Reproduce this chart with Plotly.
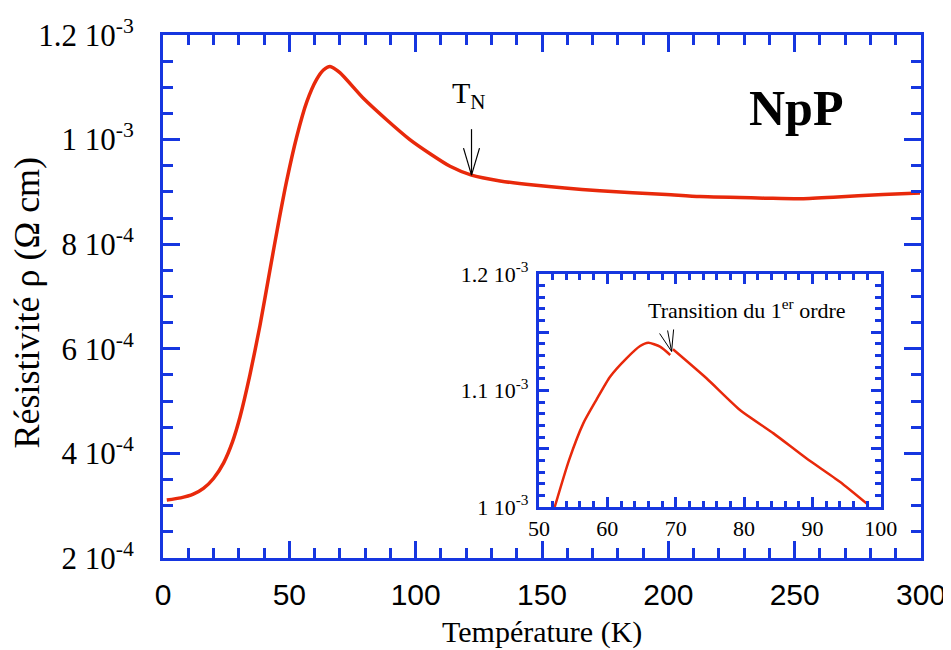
import plotly.graph_objects as go

# ---- data ----
T_main = [1.5, 7.0, 12.0, 16.0, 20.0, 24.0, 27.5, 30.5, 34.4, 38.4, 42.3, 45.6, 48.9, 52.9,
          56.9, 60.8, 63.5, 66.1, 70.0, 79.3, 88.5, 97.7, 105.7, 113.6, 122.1, 133.4, 146.6,
          172.9, 199.3, 212.5, 238.9, 252.0, 265.3, 285.0, 299.6]
rho_main = [3.11e-4, 3.15e-4, 3.22e-4, 3.33e-4, 3.52e-4, 3.82e-4, 4.22e-4, 4.70e-4, 5.50e-4,
            6.45e-4, 7.50e-4, 8.38e-4, 9.20e-4, 10.05e-4, 10.72e-4, 11.15e-4, 11.33e-4,
            11.40e-4, 11.28e-4, 10.79e-4, 10.38e-4, 10.00e-4, 9.73e-4, 9.49e-4, 9.32e-4,
            9.21e-4, 9.13e-4, 9.02e-4, 8.95e-4, 8.91e-4, 8.88e-4, 8.87e-4, 8.90e-4, 8.95e-4,
            8.98e-4]

T_inset_1 = [52.3, 54.4, 56.5, 58.4, 60.4, 62.8, 64.8, 66.0, 67.7, 69.2]
rho_inset_1 = [1.000e-3, 1.0403e-3, 1.072e-3, 1.092e-3, 1.1118e-3, 1.1276e-3, 1.1382e-3,
               1.141e-3, 1.1376e-3, 1.1305e-3]
T_inset_2 = [69.6, 74.5, 79.4, 84.3, 89.1, 94.0, 98.2]
rho_inset_2 = [1.1354e-3, 1.1105e-3, 1.0833e-3, 1.0632e-3, 1.0418e-3, 1.0217e-3, 1.0017e-3]

T_N = 122.1
rho_TN = 9.32e-4
T_trans = 69.4
rho_trans = 1.1335e-3

y_main_vals = [2e-4, 4e-4, 6e-4, 8e-4, 1e-3, 1.2e-3]
y_main_text = ["2 10<sup>-4</sup>", "4 10<sup>-4</sup>", "6 10<sup>-4</sup>",
               "8 10<sup>-4</sup>", "1 10<sup>-3</sup>", "1.2 10<sup>-3</sup>"]
y_inset_vals = [1.0e-3, 1.05e-3, 1.1e-3, 1.15e-3, 1.2e-3]
y_inset_text = ["1 10<sup>-3</sup>", "", "1.1 10<sup>-3</sup>", "", "1.2 10<sup>-3</sup>"]

BLUE = "#1636e0"
RED = "#e8290b"
SERIF = "Liberation Serif, Times New Roman, serif"
SANS = "Liberation Sans, Arial, sans-serif"

fig = go.Figure()
fig.add_trace(go.Scatter(x=T_main, y=rho_main, mode="lines",
                         line=dict(color=RED, width=3.5, shape="spline", smoothing=0.6),
                         xaxis="x", yaxis="y", showlegend=False))
fig.add_trace(go.Scatter(x=T_inset_1, y=rho_inset_1, mode="lines",
                         line=dict(color=RED, width=2.5, shape="spline", smoothing=0.6),
                         xaxis="x2", yaxis="y2", showlegend=False))
fig.add_trace(go.Scatter(x=T_inset_2, y=rho_inset_2, mode="lines",
                         line=dict(color=RED, width=2.5, shape="spline", smoothing=0.6),
                         xaxis="x2", yaxis="y2", showlegend=False))

common = dict(showline=True, linecolor=BLUE, linewidth=3, mirror="ticks", automargin=False,
              ticks="inside", tickcolor=BLUE, tickwidth=3, showgrid=False, zeroline=False)

# page body has an 8px margin, so the figure is sized to fit the 951x650 window
fig.update_layout(
    width=943, height=642,
    margin=dict(l=155, r=30, t=27, b=92),
    paper_bgcolor="white", plot_bgcolor="white",
    xaxis=dict(range=[0, 300], dtick=50, tick0=0, ticklen=17,
               minor=dict(dtick=10, ticklen=10, ticks="inside", tickcolor=BLUE, tickwidth=3),
               tickfont=dict(family=SANS, size=30, color="black"),
               ticklabelstandoff=8,
               **common),
    yaxis=dict(range=[2e-4, 1.2e-3], tickvals=y_main_vals, ticktext=y_main_text, ticklen=17,
               minor=dict(dtick=5e-5, tick0=2e-4, ticklen=10, ticks="inside",
                          tickcolor=BLUE, tickwidth=3),
               tickfont=dict(family=SERIF, size=31, color="black"),
               ticklabelstandoff=20,
               **common),
    xaxis2=dict(domain=[0.496, 0.947], anchor="y2", range=[50, 100], dtick=10, tick0=50,
                ticklen=10,
                minor=dict(dtick=2, ticklen=6, ticks="inside", tickcolor=BLUE, tickwidth=2.5),
                tickfont=dict(family=SERIF, size=22, color="black"),
                ticklabelstandoff=0,
                **common),
    yaxis2=dict(domain=[0.0975, 0.543], anchor="x2", range=[1.0e-3, 1.2e-3],
                tickvals=y_inset_vals, ticktext=y_inset_text, ticklen=10,
                minor=dict(dtick=1e-5, tick0=1e-3, ticklen=6, ticks="inside",
                           tickcolor=BLUE, tickwidth=2.5),
                tickfont=dict(family=SERIF, size=22, color="black"),
                ticklabelstandoff=3,
                **common),
)

# axis titles
fig.add_annotation(text="Température (K)", xref="paper", yref="paper", x=0.5, y=-0.1415,
                   showarrow=False, xanchor="center", yanchor="middle",
                   font=dict(family=SERIF, size=30, color="black"))
fig.add_annotation(text="Résistivité ρ (Ω cm)", xref="paper", yref="paper", x=-0.179, y=0.489,
                   showarrow=False, textangle=-90, xanchor="center", yanchor="middle",
                   font=dict(family=SERIF, size=36, color="black"))

# NpP label
fig.add_annotation(text="<b>NpP</b>", xref="paper", yref="paper", x=0.835, y=0.86,
                   showarrow=False, xanchor="center", yanchor="middle",
                   font=dict(family=SERIF, size=50, color="black"))

# T_N label and open arrow
fig.add_annotation(text="T<sub>N</sub>", x=T_N, y=rho_TN, xref="x", yref="y",
                   showarrow=False, xshift=-3, yshift=80,
                   font=dict(family=SERIF, size=30, color="black"))
arrow_lines = [(0, -46), (-8, -27), (8, -27)]
for dx, dy in arrow_lines:
    fig.add_shape(type="line", xref="x", yref="y", xsizemode="pixel", ysizemode="pixel",
                  xanchor=T_N, yanchor=rho_TN, x0=0, y0=0, x1=dx, y1=-dy,
                  line=dict(color="black", width=1.2))

# Inset annotation
fig.add_annotation(text="Transition du 1<sup>er</sup> ordre", x=T_trans, y=rho_trans,
                   xref="x2", yref="y2", showarrow=False, xshift=75, yshift=42,
                   font=dict(family=SERIF, size=22, color="black"))
inset_arrow = [(2, -22), (-12, -18), (-4, -21)]
for dx, dy in inset_arrow:
    fig.add_shape(type="line", xref="x2", yref="y2", xsizemode="pixel", ysizemode="pixel",
                  xanchor=T_trans, yanchor=rho_trans, x0=0, y0=0, x1=dx, y1=-dy,
                  line=dict(color="black", width=1))

fig.write_html("out.html")
